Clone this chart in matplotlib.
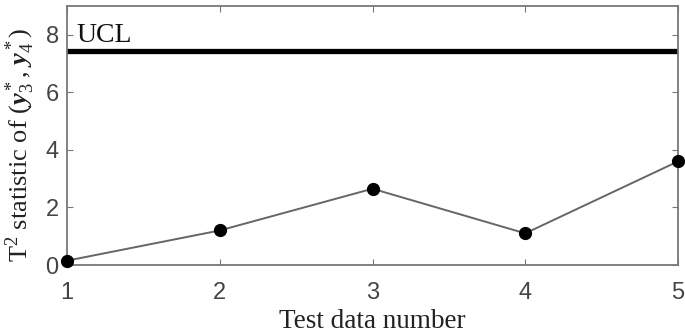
import matplotlib
matplotlib.use("Agg")
import matplotlib.pyplot as plt

# T^2 statistic for each test sample
test_number = [1, 2, 3, 4, 5]
t2_values = [0.15, 1.2, 2.65, 1.1, 3.6]
ucl = 7.43

plt.rcParams['mathtext.fontset'] = 'custom'
plt.rcParams['mathtext.rm'] = 'Liberation Serif'
plt.rcParams['mathtext.it'] = 'Liberation Serif:italic'
plt.rcParams['mathtext.bf'] = 'Liberation Serif:bold'
plt.rcParams['mathtext.bfit'] = 'Liberation Serif:italic:bold'

fig = plt.figure(figsize=(6.85, 3.35), dpi=100)
ax = fig.add_axes([67 / 685, 70 / 335, 611 / 685, 259 / 335])

ax.plot(test_number, t2_values, color='#666666', lw=1.4, marker='o',
        ms=8.5, mfc='black', mec='black', clip_on=False, zorder=3)
ax.axhline(ucl, color='black', lw=3.8)
ax.text(1.065, 7.76, 'UCL', family='Liberation Serif', fontsize=20,
        color='#111111', va='baseline', ha='left')

ax.set_xlim(1, 5)
ax.set_ylim(0, 9)
ax.set_xticks(test_number)
ax.set_yticks([0, 2, 4, 6, 8])
ax.tick_params(direction='in', length=4, color='#777777', labelcolor='#444444',
               labelsize=17, top=True, right=True)
ax.tick_params(axis='x', pad=12)
ax.tick_params(axis='y', pad=6)
for lab in ax.get_xticklabels() + ax.get_yticklabels():
    lab.set_family('Liberation Sans')
for sp in ax.spines.values():
    sp.set_color('#777777')
    sp.set_linewidth(1.3)

ax.set_xlabel('Test data number', family='Liberation Serif', fontsize=19.5,
              color='#222222', labelpad=4)
ax.set_ylabel(r'T$^2$ statistic of ($\mathbfit{y}_3^*$, $\mathbfit{y}_4^*$)',
              family='Liberation Serif', fontsize=19, color='#222222',
              labelpad=6)
ax.yaxis.label.set_y(0.463)

fig.savefig('out.png', dpi=100)
